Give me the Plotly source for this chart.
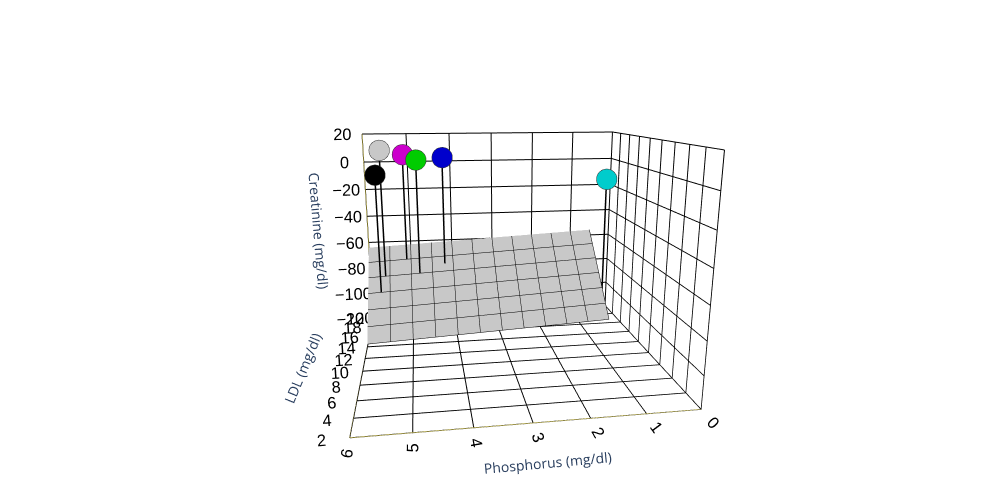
import plotly.graph_objects as go

# Points (Phosphorus, LDL, Creatinine)
phosphorus = [5.6, 5.1, 4.8, 4.2, 5.7, 0.4]
ldl = [18, 19, 18, 18.5, 17, 17]
creatinine = [10, 6, 3, 4, -6, -12]
colors = ['#c8c8c8', '#cc00cc', '#00cc00', '#0000cc', '#000000', '#00cccc']

# Fitted surface
surf_x = [0.5, 1, 1.5, 2, 2.5, 3, 3.5, 4, 4.5, 5, 5.5, 6]
surf_y = [14, 15, 16, 17, 18, 19, 20]
surf_z = [[-118 + 1.5 * (6 - xv) + 9.0 * (yv - 14) for xv in surf_x] for yv in surf_y]

fig = go.Figure()

fig.add_trace(go.Surface(x=surf_x, y=surf_y, z=surf_z,
                         colorscale=[[0, '#c8c8c8'], [1, '#c8c8c8']], showscale=False,
                         contours=dict(x=dict(show=True, color='black', width=2, start=0.5, end=6, size=0.5),
                                       y=dict(show=True, color='black', width=2, start=14, end=20, size=1)),
                         lighting=dict(ambient=1, diffuse=0, specular=0)))

# drop lines
for px, py, pz in zip(phosphorus, ldl, creatinine):
    fig.add_trace(go.Scatter3d(x=[px, px], y=[py, py], z=[pz, -120], mode='lines',
                               line=dict(color='black', width=3), showlegend=False))

fig.add_trace(go.Scatter3d(x=phosphorus, y=ldl, z=creatinine, mode='markers',
                           marker=dict(size=12, color=colors, symbol='circle',
                                       line=dict(color='#333', width=1)),
                           showlegend=False))

ax = dict(showbackground=False, gridcolor='black', gridwidth=2, linecolor='#f0e060',
          showline=True, zeroline=False, tickfont=dict(family='Liberation Sans', size=14, color='black'),
          title_font=dict(family='Liberation Sans', size=17, color='black'))

fig.update_layout(
    width=1001, height=490, margin=dict(l=0, r=0, t=0, b=0),
    paper_bgcolor='white', showlegend=False,
    scene=dict(
        xaxis=dict(ax, title='Phosphorus (mg/dl)', range=[6, 0], dtick=1),
        yaxis=dict(ax, title='LDL (mg/dl)', range=[2, 20], dtick=2),
        zaxis=dict(ax, title='Creatinine (mg/dl)', range=[-120, 20], dtick=20),
        camera=dict(eye=dict(x=-0.35, y=-2.3, z=0.6), up=dict(x=0, y=0, z=1)),
        aspectmode='manual', aspectratio=dict(x=1.2, y=1.1, z=0.9),
    ),
)

fig.write_html("out.html")
